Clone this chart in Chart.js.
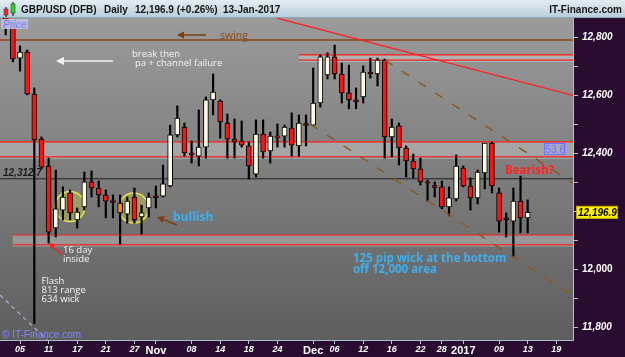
<!DOCTYPE html>
<html>
<head>
<meta charset="utf-8">
<script src="https://cdn.jsdelivr.net/npm/chart.js@4/dist/chart.umd.min.js"></script>
<style>
  html, body { margin: 0; padding: 0; background: #2b0c31; }
  canvas { display: block; }
</style>
</head>
<body>
<canvas id="chart" width="625" height="357"></canvas>
<script>
// GBP/USD (DFB) daily candles, 3 Oct 2016 - 13 Jan 2017
const days = ['3 Oct','4 Oct','5 Oct','6 Oct','7 Oct','10 Oct','11 Oct','12 Oct','13 Oct','14 Oct',
  '17 Oct','18 Oct','19 Oct','20 Oct','21 Oct','24 Oct','25 Oct','26 Oct','27 Oct','28 Oct',
  '31 Oct','1 Nov','2 Nov','3 Nov','4 Nov','7 Nov','8 Nov','9 Nov','10 Nov','11 Nov',
  '14 Nov','15 Nov','16 Nov','17 Nov','18 Nov','21 Nov','22 Nov','23 Nov','24 Nov','25 Nov',
  '28 Nov','29 Nov','30 Nov','1 Dec','2 Dec','5 Dec','6 Dec','7 Dec','8 Dec','9 Dec',
  '12 Dec','13 Dec','14 Dec','15 Dec','16 Dec','19 Dec','20 Dec','21 Dec','22 Dec','23 Dec',
  '27 Dec','28 Dec','29 Dec','30 Dec','2 Jan','3 Jan','4 Jan','5 Jan','6 Jan','9 Jan',
  '10 Jan','11 Jan','12 Jan','13 Jan'];

const open = [
  12905, 12833, 12729, 12750, 12605, 12450, 12357, 12143, 12205, 12264,
  12171, 12216, 12302, 12281, 12257, 12238, 12229, 12191, 12250, 12181,
  12212, 12254, 12253, 12288, 12464, 12491, 12402, 12391, 12422, 12585,
  12581, 12505, 12450, 12443, 12426, 12329, 12467, 12409, 12461, 12460,
  12488, 12426, 12503, 12498, 12574, 12671, 12733, 12674, 12609, 12585,
  12595, 12681, 12674, 12722, 12457, 12495, 12419, 12374, 12347, 12302,
  12289, 12285, 12216, 12243, 12350, 12288, 12247, 12333, 12436, 12264,
  12178, 12167, 12236, 12178];
const high = [
  12920, 12847, 12771, 12757, 12626, 12457, 12384, 12343, 12285, 12274,
  12212, 12336, 12340, 12305, 12274, 12257, 12257, 12250, 12281, 12222,
  12264, 12288, 12360, 12498, 12564, 12505, 12443, 12550, 12595, 12674,
  12585, 12536, 12519, 12512, 12440, 12516, 12516, 12474, 12502, 12498,
  12540, 12533, 12533, 12695, 12740, 12747, 12774, 12712, 12705, 12626,
  12702, 12729, 12729, 12726, 12519, 12505, 12426, 12398, 12384, 12309,
  12302, 12305, 12285, 12395, 12357, 12316, 12343, 12436, 12440, 12281,
  12195, 12281, 12322, 12240];
const low = [
  12809, 12716, 12684, 12602, 11813, 12347, 12091, 12112, 12171, 12171,
  12143, 12205, 12250, 12216, 12178, 12178, 12088, 12160, 12160, 12122,
  12181, 12212, 12250, 12285, 12457, 12391, 12367, 12357, 12384, 12533,
  12453, 12384, 12384, 12422, 12312, 12319, 12384, 12367, 12422, 12422,
  12391, 12391, 12426, 12495, 12560, 12657, 12657, 12574, 12554, 12554,
  12574, 12660, 12633, 12384, 12388, 12360, 12319, 12316, 12291, 12236,
  12250, 12209, 12185, 12236, 12285, 12205, 12226, 12278, 12264, 12129,
  12112, 12043, 12126, 12126];
const close = [
  12838, 12726, 12750, 12605, 12447, 12353, 12129, 12209, 12250, 12195,
  12198, 12302, 12281, 12257, 12236, 12231, 12195, 12236, 12171, 12195,
  12250, 12248, 12295, 12464, 12522, 12402, 12395, 12422, 12585, 12612,
  12509, 12450, 12440, 12429, 12357, 12467, 12405, 12460, 12455, 12491,
  12429, 12505, 12497, 12574, 12733, 12733, 12674, 12609, 12585, 12578,
  12681, 12674, 12722, 12457, 12491, 12419, 12374, 12347, 12302, 12298,
  12283, 12216, 12247, 12357, 12288, 12247, 12336, 12436, 12288, 12167,
  12172, 12236, 12178, 12196.9];
const highlightDay = '25 Oct';

// x axis: trading-day index -> tick label
const xTickIndex  = [2, 6, 10, 14, 18, 21, 26, 30, 34, 38, 43, 46, 50, 54, 58, 61, 64, 69, 73, 77];
const xTickLabels = ['05','11','17','21','27','Nov','08','14','18','24','Dec','06','12','16','22','28','2017','09','13','19'];
const monthLabels = ['Nov', 'Dec', '2017'];

// drawn levels (price) and lines ([day index, price])
const swingLevel = 12791;
const pivotLevel = 12312.7;
const resistanceBand = [12388, 12440];
const supportBand = [12085, 12119];
const supportStart = 0.97;
const topBand = [12722, 12740];
const topBandStart = 41.0;
const trendRed = [[37.9, 12867], [79.34, 12600]];
const channelUpper = [[53.05, 12722], [79.34, 12298]];
const channelLower = [[42.56, 12502], [79.34, 11909]];
const flashLine = [[-0.8, 11912], [5.8, 11757]];
const circles = [[9.0, 12217], [17.9, 12212]];

const bodyColors = days.map((d, i) =>
  d === highlightDay ? '#ff8c00' : (close[i] >= open[i] ? '#fffbe4' : '#ff1212'));

function toPts(arr) { return arr.map(p => ({ x: p[0], y: p[1] })); }

function arrow(ctx, x1, y1, x2, y2, color, w, head) {
  const ang = Math.atan2(y2 - y1, x2 - x1);
  const bx = x2 - head * Math.cos(ang), by = y2 - head * Math.sin(ang);
  ctx.strokeStyle = color; ctx.fillStyle = color; ctx.lineWidth = w;
  ctx.beginPath(); ctx.moveTo(x1, y1); ctx.lineTo(bx, by); ctx.stroke();
  ctx.beginPath(); ctx.moveTo(x2, y2);
  ctx.lineTo(bx + head * 0.5 * Math.sin(ang), by - head * 0.5 * Math.cos(ang));
  ctx.lineTo(bx - head * 0.5 * Math.sin(ang), by + head * 0.5 * Math.cos(ang));
  ctx.closePath(); ctx.fill();
}

function hline(ctx, x1, x2, y, color, w) {
  ctx.strokeStyle = color; ctx.lineWidth = w;
  ctx.beginPath(); ctx.moveTo(x1, y); ctx.lineTo(x2, y); ctx.stroke();
}

const decor = {
  id: 'decor',
  beforeDraw(chart) {
    const { ctx, chartArea: a, width, height } = chart;
    ctx.save();
    ctx.fillStyle = '#2b0c31';
    ctx.fillRect(0, 0, width, height);
    let g = ctx.createLinearGradient(0, 0, 0, 18);
    g.addColorStop(0, '#e3edf3');
    g.addColorStop(1, '#b7ccd9');
    ctx.fillStyle = g;
    ctx.fillRect(0, 0, width, 18);
    hline(ctx, 0, width, 17.5, '#8ea6b4', 1);
    g = ctx.createLinearGradient(0, a.top, 0, a.bottom);
    g.addColorStop(0, '#9b9b9b');
    g.addColorStop(1, '#5e5e5e');
    ctx.fillStyle = g;
    ctx.fillRect(a.left, a.top, a.right - a.left, a.bottom - a.top);

    // title icon
    ctx.fillStyle = '#000';
    ctx.fillRect(5.5, 7, 1, 10);
    ctx.fillRect(12.5, 2, 1, 14);
    ctx.fillStyle = '#ff2a2a'; ctx.fillRect(4, 9, 4, 6);
    ctx.fillStyle = '#22dd22'; ctx.fillRect(11, 4, 4, 9);
    ctx.strokeStyle = '#333'; ctx.lineWidth = 0.6;
    ctx.strokeRect(4, 9, 4, 6); ctx.strokeRect(11, 4, 4, 9);

    ctx.fillStyle = '#141414';
    ctx.font = 'bold 10px "Liberation Sans"';
    ctx.textBaseline = 'alphabetic';
    ctx.fillText('GBP/USD (DFB)', 21, 12.5);
    ctx.fillText('Daily', 104, 12.5);
    ctx.fillText('12,196.9 (+0.26%)', 135, 12.5);
    ctx.fillText('13-Jan-2017', 223, 12.5);
    ctx.textAlign = 'right';
    ctx.fillText('IT-Finance.com', 622, 12.5);
    ctx.restore();
  },
  beforeDatasetsDraw(chart) {
    const { ctx, chartArea: a, scales: { x, y } } = chart;
    ctx.save();
    ctx.beginPath(); ctx.rect(a.left, a.top, a.right - a.left, a.bottom - a.top); ctx.clip();

    const band = (lv, x1, fill) => {
      const y1 = y.getPixelForValue(lv[1]), y2 = y.getPixelForValue(lv[0]);
      ctx.fillStyle = fill;
      ctx.fillRect(x1, y1, a.right - x1, y2 - y1);
      hline(ctx, x1, a.right, y2 + 1, '#9fd6dc', 1);
      hline(ctx, x1, a.right, y1, '#ff1a1a', 1.2);
      hline(ctx, x1, a.right, y2, '#ff1a1a', 1.2);
    };
    band(resistanceBand, a.left, 'rgba(215,215,215,0.42)');
    band(supportBand, x.getPixelForValue(supportStart), 'rgba(210,210,210,0.4)');
    band(topBand, x.getPixelForValue(topBandStart), 'rgba(215,215,215,0.45)');

    hline(ctx, a.left, a.right, y.getPixelForValue(swingLevel), '#8a4614', 1.5);
    hline(ctx, a.left, a.right, y.getPixelForValue(pivotLevel), '#202020', 1);

    circles.forEach(c => {
      ctx.beginPath();
      ctx.arc(x.getPixelForValue(c[0]), y.getPixelForValue(c[1]), 15, 0, Math.PI * 2);
      ctx.fillStyle = 'rgba(225,225,60,0.35)';
      ctx.fill();
      ctx.strokeStyle = '#e8e83a'; ctx.lineWidth = 1.5;
      ctx.stroke();
    });
    ctx.restore();
  },
  afterDatasetsDraw(chart) {
    const { ctx } = chart;
    ctx.save();
    ctx.textBaseline = 'alphabetic';

    arrow(ctx, 206, 35, 177, 35, '#7a3d10', 1.5, 7);
    arrow(ctx, 113, 61, 56, 61, '#f4f4f4', 1.5, 8);
    arrow(ctx, 177, 225, 157, 217, '#7a3d10', 1.5, 7);
    arrow(ctx, 62, 255, 49, 243, '#ff1a1a', 1.2, 6);

    ctx.fillStyle = '#8a4a16';
    ctx.font = '10.5px "Open Sans"';
    ctx.fillText('swing', 220, 39);

    ctx.fillStyle = '#f4f4f4';
    ctx.font = '9.5px "Open Sans"';
    ctx.fillText('break then', 132, 57);
    ctx.fillText('pa + channel failure', 135, 66);
    ctx.fillText('16 day', 63, 253);
    ctx.fillText('inside', 63, 262);
    ctx.fillText('Flash', 41.5, 284);
    ctx.fillText('813 range', 41.5, 293);
    ctx.fillText('634 wick', 41.5, 302);

    ctx.fillStyle = '#3fb0ee';
    ctx.font = 'bold 12px "Open Sans"';
    ctx.fillText('bullish', 173, 221);
    ctx.font = 'bold 11.5px "Open Sans"';
    ctx.fillText('125 pip wick at the bottom', 353, 262);
    ctx.fillText('off 12,000 area', 353, 273);

    ctx.fillStyle = '#ff2222';
    ctx.fillText('Bearish?', 505, 174);

    ctx.fillStyle = '#1c1c1c';
    ctx.font = 'italic bold 10px "Liberation Sans"';
    ctx.fillText('12,312.7', 3, 175.5);

    // 53.6 box
    ctx.fillStyle = 'rgba(175,175,235,0.45)';
    ctx.fillRect(544, 143, 21, 12);
    ctx.strokeStyle = '#6f6fff'; ctx.lineWidth = 1;
    ctx.strokeRect(544.5, 143.5, 20, 11);
    ctx.fillStyle = '#6f6fff';
    ctx.font = '10px "Liberation Sans"';
    ctx.fillText('53.6', 545.5, 153);

    // Price label
    ctx.fillStyle = 'rgba(185,190,215,0.95)';
    ctx.fillRect(1, 19, 27, 10);
    ctx.fillStyle = '#7c7cff';
    ctx.font = 'italic 10.5px "Liberation Sans"';
    ctx.fillText('Price', 3, 27.5);

    ctx.fillStyle = '#8484ff';
    ctx.font = '10px "Liberation Sans"';
    ctx.fillText('\u00a9 IT-Finance.com', 2, 338);
    ctx.restore();
  },
  afterDraw(chart) {
    const { ctx, scales: { y } } = chart;
    const py = y.getPixelForValue(close[close.length - 1]);
    ctx.save();
    ctx.fillStyle = '#fff200';
    ctx.fillRect(576, py - 6.5, 42, 13);
    ctx.strokeStyle = '#b8a800'; ctx.lineWidth = 1;
    ctx.strokeRect(576.5, py - 6, 41, 12);
    ctx.fillStyle = '#000';
    ctx.font = 'italic bold 10px "Liberation Sans"';
    ctx.textBaseline = 'middle';
    ctx.fillText('12,196.9', 578, py + 0.5);
    ctx.restore();
  }
};

new Chart(document.getElementById('chart'), {
  type: 'bar',
  data: {
    datasets: [
      {
        label: 'Trend',
        type: 'line',
        data: toPts(trendRed),
        borderColor: '#ff2020', borderWidth: 1.3,
        pointRadius: 0, fill: false, order: 0
      },
      {
        label: 'Channel upper',
        type: 'line',
        data: toPts(channelUpper),
        borderColor: '#8b5a22', borderWidth: 1.5, borderDash: [9, 11],
        pointRadius: 0, fill: false, order: 0
      },
      {
        label: 'Channel lower',
        type: 'line',
        data: toPts(channelLower),
        borderColor: '#8b5a22', borderWidth: 1.5, borderDash: [9, 11],
        pointRadius: 0, fill: false, order: 0
      },
      {
        label: 'Flash',
        type: 'line',
        data: toPts(flashLine),
        borderColor: '#a8b6dc', borderWidth: 1.2, borderDash: [4, 4],
        pointRadius: 0, fill: false, order: 0
      },
      {
        label: 'Body',
        data: days.map((d, i) => ({ x: i, y: [open[i], close[i]] })),
        backgroundColor: bodyColors,
        borderColor: '#000', borderWidth: 1, borderSkipped: false,
        barThickness: 5, grouped: false, order: 1
      },
      {
        label: 'Wick',
        data: days.map((d, i) => ({ x: i, y: [low[i], high[i]] })),
        backgroundColor: '#000',
        barThickness: 1.5, grouped: false, order: 2
      }
    ]
  },
  options: {
    responsive: false,
    animation: false,
    layout: { padding: { top: 18, left: 0, right: 0, bottom: 0 } },
    plugins: { legend: { display: false }, tooltip: { enabled: false } },
    scales: {
      x: {
        type: 'linear',
        min: -0.8, max: 79.34,
        offset: false,
        afterBuildTicks: s => { s.ticks = xTickIndex.map(v => ({ value: v })); },
        afterFit: s => { s.height = 17; },
        grid: { display: true, offset: false, drawOnChartArea: false, tickLength: 4, color: '#a9c4cc' },
        border: { display: true, color: '#a9c4cc', width: 1 },
        ticks: {
          autoSkip: false, maxRotation: 0, padding: 0, color: '#ffffff',
          callback: (v, i) => xTickLabels[i],
          font: ctx => {
            const lab = ctx.tick ? xTickLabels[xTickIndex.indexOf(ctx.tick.value)] : '';
            return monthLabels.includes(lab)
              ? { family: 'Liberation Sans', size: 11, weight: 'bold', style: 'normal' }
              : { family: 'Liberation Sans', size: 9, weight: 'bold', style: 'italic' };
          }
        }
      },
      y: {
        position: 'right',
        min: 11756.9, max: 12867.2,
        beginAtZero: false,
        afterFit: s => { s.width = 52; },
        grid: { display: true, drawOnChartArea: false, tickLength: 5, color: '#b4c4ca' },
        border: { display: true, color: '#a9c4cc', width: 1 },
        ticks: {
          stepSize: 100, includeBounds: false, autoSkip: false, padding: 4, color: '#ffffff',
          callback: v => {
            const r = Math.round(v);
            return (r % 200 === 0 && r !== 12200) ? r.toLocaleString('en-US') : '';
          },
          font: ctx => ({
            family: 'Liberation Sans', size: 10, weight: 'bold',
            style: ctx.tick && Math.round(ctx.tick.value) === 12000 ? 'normal' : 'italic'
          })
        }
      }
    }
  },
  plugins: [decor]
});
</script>
</body>
</html>
